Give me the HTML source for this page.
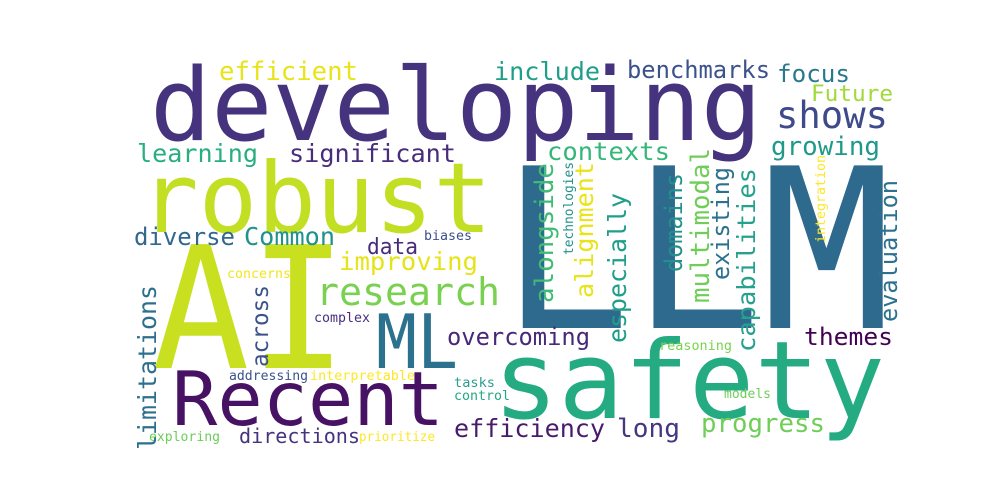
<!DOCTYPE html>
<html><head><meta charset="utf-8"><title>Word cloud</title>
<style>
html,body{margin:0;padding:0;background:#fff;}
svg{display:block;}
text{font-family:"DejaVu Sans Mono","Liberation Mono",monospace;}
</style></head>
<body>
<svg id="cloud" width="1000" height="500" viewBox="0 0 1000 500">
<rect x="0" y="0" width="1000" height="500" fill="#ffffff"/>
</svg>
<script>
// word, x (baseline start), y (baseline), font size, layout width, vertical?, color
const words = ["developing","robust","AI","LLM","safety","Recent","ML","research","shows","efficient","include","benchmarks","focus","Future","learning","significant","contexts","growing","diverse","Common","data","improving","biases","concerns","complex","overcoming","themes","reasoning","addressing","interpretable","tasks","control","models","exploring","directions","prioritize","efficiency","long","progress","limitations","across","alongside","technologies","alignment","especially","domains","multimodal","existing","capabilities","integration","evaluation"];
const xs = [150,140,152,500,493,172,376,316,776,219,494,627,777,811,137,289,547,771,134,244,367,339,424,227,314,447,804,659,229,310,454,454,724,149,239,359,454,617,701,156,268,553,573,593,626,682,709,729,755,825,897];
const ys = [140,232,368,328,418,425,368,305,128,80,80,78,82,101,162,162,160,155,245,245,254,270,240,278,322,345,345,350,380,380,387,400,398,441,443,441,437,437,432,450,367,303,255,298,343,272,303,280,352,243,322];
const sizes = [101,97,170,223,108,75,75,38,37,26,25,24,24,22,25,25,25,26,24,25,22,25,13,13,13,24,24,13,13,13,13,13,13,13,20,13,25,26,26,25,23,26,13,25,25,24,26,24,25,13,24];
const lens = [612,352,195,392,392,272,82,184,112,139,106,143,73,82,121,167,123,109,101,91,51,139,48,64,56,143,89,73,79,105,41,56,47,71,121,76,151,63,124,165,82,140,93,136,150,99,155,113,184,88,142];
const vert = [0,0,0,0,0,0,0,0,0,0,0,0,0,0,0,0,0,0,0,0,0,0,0,0,0,0,0,0,0,0,0,0,0,0,0,0,0,0,0,1,1,1,1,1,1,1,1,1,1,1,1];
const colors = ["#46337e","#c2df23","#c8e020","#2e6a8e","#25ab82","#471164","#2c728e","#7ad151","#3e4a89","#e8e419","#1f9e89","#3b528b","#2a788e","#a0da39","#29af7f","#472d7b","#35b779","#1f9a8a","#31688e","#21918c","#472a7a","#e5e419","#3d4e8a","#f2e51d","#46307e","#482878","#440154","#7ad151","#3b528b","#fde725","#2a9d8e","#22a884","#6ece58","#6ccd5a","#46337e","#fde725","#481a6c","#453781","#6ece58","#2d708e","#3b528b","#3fbc73","#21918c","#e7e419","#1f9e89","#21918c","#6ece58","#2c728e","#25a18e","#fde725","#2c728e"];

const svg = document.getElementById('cloud');
const NS = 'http://www.w3.org/2000/svg';
for (let i = 0; i < words.length; i++) {
  const t = document.createElementNS(NS, 'text');
  
  
  t.setAttribute('x', xs[i]);
  t.setAttribute('y', ys[i]);
  t.setAttribute('font-size', sizes[i]);
  t.setAttribute('fill', colors[i]);
  t.setAttribute('textLength', lens[i]);
  t.setAttribute('lengthAdjust', 'spacingAndGlyphs');
  if (vert[i]) t.setAttribute('transform', 'rotate(-90 ' + xs[i] + ' ' + ys[i] + ')');
  t.textContent = words[i];
  svg.appendChild(t);
}
</script>
</body></html>
